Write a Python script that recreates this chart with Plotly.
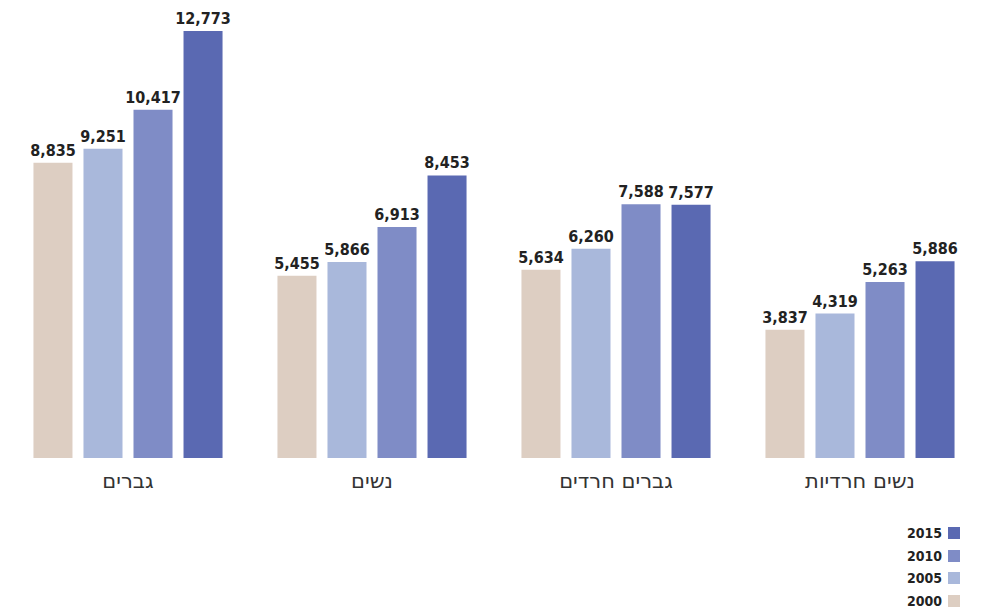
import plotly.graph_objects as go

categories = ["גברים", "נשים", "גברים חרדים", "נשים חרדיות"]
years = ["2000", "2005", "2010", "2015"]
values_2000 = [8835, 5455, 5634, 3837]
values_2005 = [9251, 5866, 6260, 4319]
values_2010 = [10417, 6913, 7588, 5263]
values_2015 = [12773, 8453, 7577, 5886]
series = [values_2000, values_2005, values_2010, values_2015]
colors = ["#DDCEC2", "#A9B8DB", "#7F8CC6", "#5A69B2"]

W, H = 983, 611
ml, mr, mt, mb = 6, 1, 0, 153
pw, ph = W - ml - mr, H - mt - mb

fig = go.Figure()
for yr, vals, col in zip(years, series, colors):
    fig.add_trace(go.Bar(
        x=categories, y=vals, name=yr, marker_color=col, marker_line_width=0,
        text=[f"{v:,}" for v in vals], textposition="outside",
        textfont=dict(family="DejaVu Sans Condensed", size=16, color="#222222"),
        texttemplate="<b>%{text}</b>", cliponaxis=False, constraintext="none",
        hoverinfo="skip",
    ))

# manual legend (text right, swatch right of text)
leg_y = [533, 556, 578, 601]
for yr, col, py in zip(reversed(years), reversed(colors), leg_y):
    yp = (ph - (py - mt)) / ph
    hs = 6 / ph
    fig.add_shape(type="rect", xref="paper", yref="paper",
                  x0=(948 - ml) / pw, x1=(960 - ml) / pw, y0=yp - hs, y1=yp + hs,
                  fillcolor=col, line_width=0)
    fig.add_annotation(xref="paper", yref="paper", x=(944 - ml) / pw, y=yp,
                       text=f"<b>{yr}</b>", showarrow=False, xanchor="right", yanchor="middle",
                       font=dict(family="DejaVu Sans Condensed", size=14, color="#222222"))

fig.update_layout(
    width=W, height=H, margin=dict(l=ml, r=mr, t=mt, b=mb, autoexpand=False),
    barmode="group", bargap=0.18, bargroupgap=0.22,
    plot_bgcolor="white", paper_bgcolor="white", showlegend=False,
    xaxis=dict(showline=False, showgrid=False, ticks="", ticklabelstandoff=8, automargin=False,
               tickfont=dict(family="DejaVu Sans", size=21, color="#333333")),
    yaxis=dict(visible=False, automargin=False, range=[0, 12773 * 458 / 427]),
)
fig.write_html("out.html", config={"displayModeBar": False, "staticPlot": True},
               post_script="document.body.style.margin='0';document.body.style.padding='0';")
